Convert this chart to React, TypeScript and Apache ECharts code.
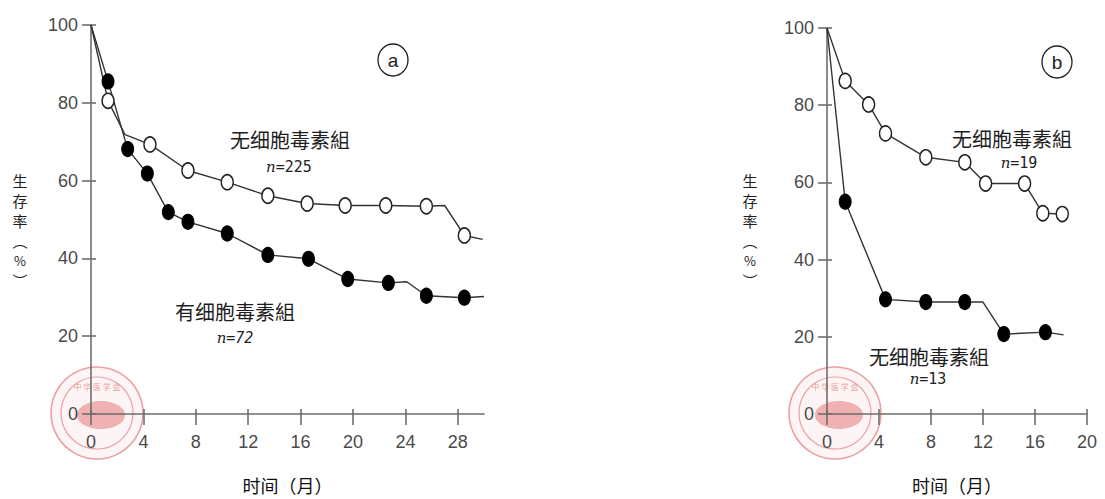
import React, { useEffect, useRef } from "react";
import * as echarts from "echarts";

// Panel a: survival curves. [month, survival %, marker(1) or bend(0)]
const aNoToxin: number[][] = [
  [0, 100, 0], [1.3, 80.5, 1], [2.6, 71.8, 0], [4.5, 69.3, 1], [7.4, 62.6, 1],
  [10.4, 59.6, 1], [13.5, 56.1, 1], [16.5, 54.1, 1], [19.4, 53.6, 1],
  [22.5, 53.6, 1], [25.6, 53.4, 1], [27.0, 53.6, 0], [28.5, 45.9, 1], [29.9, 44.9, 0],
];
const aToxin: number[][] = [
  [0, 100, 0], [1.3, 85.5, 1], [2.8, 68.1, 1], [4.3, 61.8, 1], [5.9, 51.9, 1],
  [7.4, 49.4, 1], [10.4, 46.4, 1], [13.5, 40.9, 1], [16.6, 39.9, 1],
  [19.6, 34.7, 1], [22.7, 33.7, 1], [24.1, 34.0, 0], [25.6, 30.4, 1],
  [28.5, 29.9, 1], [30.0, 30.2, 0],
];
// Panel b
const bNoToxin: number[][] = [
  [0, 100, 0], [1.4, 86.3, 1], [3.2, 80.2, 1], [4.5, 72.7, 1], [7.6, 66.5, 1],
  [10.6, 65.2, 1], [12.2, 59.7, 1], [15.2, 59.7, 1], [16.6, 52.0, 1], [18.1, 51.8, 1],
];
const bToxin: number[][] = [
  [0, 100, 0], [1.4, 55.0, 1], [4.5, 29.7, 1], [7.6, 29.0, 1], [10.6, 29.0, 1],
  [12.0, 29.0, 0], [13.6, 20.7, 1], [16.8, 21.2, 1], [18.2, 20.5, 0],
];

const aXTicks = [0, 4, 8, 12, 16, 20, 24, 28];
const bXTicks = [0, 4, 8, 12, 16, 20];
const aXMax = 30;
const bXMax = 20;
const xTitle = "时间（月）";
const yTitleChars = ["生", "存", "率", "︵", "%", "︶"];

const NUM_FONT = "'Liberation Sans', Arial, sans-serif";
const CJK_FONT = "'Noto Sans CJK SC', sans-serif";

export default function App() {
  const ref = useRef<HTMLDivElement>(null);
  useEffect(() => {
    if (!ref.current) return;
    document.body.style.margin = "0";
    const chart = echarts.init(ref.current, undefined, { renderer: "svg" });

    const axisColor = "#6e6e6e";
    const mkX = (gi: number, max: number, ticks: number[]) => [
      {
        gridIndex: gi, type: "value", min: 0, max, position: "bottom",
        axisLine: { onZero: false, lineStyle: { color: axisColor, width: 1.6 } },
        axisTick: { customValues: ticks, length: 11, lineStyle: { color: axisColor, width: 1.6 } },
        axisLabel: { customValues: ticks, margin: 19, fontSize: 18, color: "#4a4a4a", fontFamily: NUM_FONT },
        splitLine: { show: false },
        name: xTitle, nameLocation: "middle", nameGap: 62,
        nameTextStyle: { fontSize: 18, color: "#111", fontFamily: CJK_FONT },
      },
      {
        gridIndex: gi, type: "value", min: 0, max, position: "bottom",
        axisLine: { show: false },
        axisTick: { customValues: ticks, inside: true, length: 5, lineStyle: { color: axisColor, width: 1.6 } },
        axisLabel: { show: false }, splitLine: { show: false },
      },
    ];
    const mkY = (gi: number) => [
      {
        gridIndex: gi, type: "value", min: 0, max: 100, interval: 20,
        axisLine: { show: true, onZero: false, lineStyle: { color: axisColor, width: 1.6 } },
        axisTick: { show: true, length: 9, lineStyle: { color: axisColor, width: 1.6 } },
        axisLabel: { margin: 13, fontSize: 18, color: "#4a4a4a", fontFamily: NUM_FONT },
        splitLine: { show: false },
      },
      {
        gridIndex: gi, type: "value", min: 0, max: 100, interval: 20, position: "left",
        axisLine: { show: false },
        axisTick: { show: true, inside: true, length: 5, lineStyle: { color: axisColor, width: 1.6 } },
        axisLabel: { show: false }, splitLine: { show: false },
      },
    ];

    const lineSeries = (data: number[][], xi: number, yi: number) => ({
      type: "line", xAxisIndex: xi, yAxisIndex: yi, symbol: "none", z: 2,
      lineStyle: { color: "#333", width: 1.4 },
      data: data.map((d) => [d[0], d[1]]),
    });
    const markSeries = (data: number[][], xi: number, yi: number, open: boolean) => ({
      type: "scatter", xAxisIndex: xi, yAxisIndex: yi, z: 3,
      symbol: "circle", symbolSize: [12, 15],
      itemStyle: open
        ? { color: "#fff", borderColor: "#222", borderWidth: 1.5, opacity: 1 }
        : { color: "#000", borderColor: "#000", borderWidth: 1, opacity: 1 },
      data: data.filter((d) => d[2] === 1).map((d) => [d[0], d[1]]),
    });

    const seal = (cx: number, cy: number) => ({
      type: "group", z: 0, silent: true,
      children: [
        { type: "circle", shape: { cx, cy, r: 46 }, style: { fill: "rgba(240,170,170,0.12)", stroke: "#eaa1a1", lineWidth: 1.6 } },
        { type: "circle", shape: { cx, cy, r: 36 }, style: { fill: "none", stroke: "#eaa1a1", lineWidth: 1.2 } },
        { type: "ellipse", shape: { cx: cx + 4, cy: cy + 2, rx: 24, ry: 14 }, style: { fill: "rgba(228,120,120,0.55)" } },
        { type: "text", x: cx, y: cy - 27, style: { text: "中 华 医 学 会", fill: "#e9a0a0", fontSize: 8, align: "center", verticalAlign: "middle", fontFamily: CJK_FONT } },
      ],
    });

    const label = (x: number, y: number, text: string, size = 20) => ({
      type: "text", x, y, z: 10,
      style: { text, fontSize: size, fill: "#1e1e1e", align: "center", verticalAlign: "middle", fontFamily: CJK_FONT },
    });
    const nLabel = (x: number, y: number, num: string, italicAll = false) => ({
      type: "text", x, y, z: 10,
      style: {
        text: `{i|n}{m|=${num}}`, align: "center", verticalAlign: "middle",
        rich: {
          i: { fontSize: 15, fontStyle: "italic", fontFamily: "'DejaVu Serif', serif", fill: "#222" },
          m: { fontSize: 15, fontStyle: italicAll ? "italic" : "normal", fontFamily: "'DejaVu Sans Mono', monospace", fill: "#222" },
        },
      },
    });
    const circled = (cx: number, cy: number, ch: string) => ({
      type: "group", z: 10,
      children: [
        { type: "ellipse", shape: { cx, cy, rx: 15, ry: 16 }, style: { fill: "#fff", stroke: "#222", lineWidth: 1.3 } },
        { type: "text", x: cx, y: cy, style: { text: ch, fontSize: 19, fill: "#222", align: "center", verticalAlign: "middle", fontFamily: NUM_FONT } },
      ],
    });
    const yName = (x: number) => ({
      type: "group", z: 10,
      children: yTitleChars.map((c, i) => ({
        type: "text", x, y: 180 + i * 20,
        style: { text: c, fontSize: c === "%" ? 13 : 15, fill: "#1e1e1e", align: "center", verticalAlign: "middle", fontFamily: CJK_FONT },
      })),
    });

    chart.setOption({
      animation: false,
      backgroundColor: "#fff",
      grid: [
        { left: 91, top: 25, width: 393, height: 401 },
        { left: 827, top: 28, width: 260, height: 401 },
      ],
      xAxis: [...mkX(0, aXMax, aXTicks), ...mkX(1, bXMax, bXTicks)],
      yAxis: [...mkY(0), ...mkY(1)],
      series: [
        lineSeries(aNoToxin, 0, 0), lineSeries(aToxin, 0, 0),
        markSeries(aNoToxin, 0, 0, true), markSeries(aToxin, 0, 0, false),
        lineSeries(bNoToxin, 2, 2), lineSeries(bToxin, 2, 2),
        markSeries(bNoToxin, 2, 2, true), markSeries(bToxin, 2, 2, false),
      ],
      graphic: [
        seal(97, 413), seal(835, 413),
        yName(20), yName(750),
        circled(393, 60, "a"), circled(1057, 62, "b"),
        label(290, 139, "无细胞毒素組"), nLabel(289, 167, "225"),
        label(235, 311, "有细胞毒素組"), nLabel(235, 338, "72", true),
        label(1012, 138, "无细胞毒素組"), nLabel(1019, 163, "19"),
        label(929, 356, "无细胞毒素組"), nLabel(928, 379, "13"),
      ],
    });
    return () => chart.dispose();
  }, []);
  return <div ref={ref} style={{ position: "fixed", left: 0, top: 0, width: 1105, height: 499 }} />;
}
